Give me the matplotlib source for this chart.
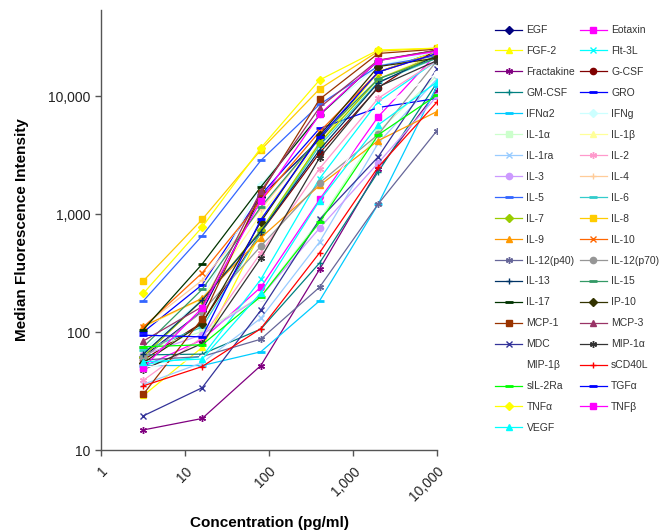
import matplotlib.pyplot as plt
from matplotlib.ticker import FixedLocator, FuncFormatter, NullLocator

plt.rcParams['font.family'] = ['Liberation Sans', 'DejaVu Sans']

# 5-fold dilution series (pg/ml)
conc = [3.2, 16, 80, 400, 2000, 10000]

# median fluorescence intensity
egf = [62, 150, 1400, 4300, 16000, 24000]
eotaxin = [51, 86, 240, 1330, 6700, 23000]
fgf2 = [29, 74, 700, 4000, 16000, 24000]
flt3l = [53, 62, 280, 2000, 9000, 20000]
fractakine = [14.8, 18.5, 52, 340, 2400, 11000]
gcsf = [58, 120, 700, 3300, 11800, 25000]
gmcsf = [64, 65, 106, 385, 2290, 13000]
gro = [100, 252, 1450, 5320, 8000, 9560]
ifna2 = [52, 52, 68, 184, 1220, 12200]
ifng = [70, 190, 1760, 7000, 18000, 24000]
il1a = [70, 101, 200, 890, 5000, 15000]
il1b = [110, 190, 1000, 4000, 14000, 23000]
il1ra = [36, 55, 131, 580, 4000, 14000]
il2 = [39, 90, 470, 2430, 9600, 20000]
il3 = [64, 95, 200, 760, 2720, 10000]
il4 = [112, 275, 1100, 4500, 14000, 22000]
il5 = [184, 655, 2850, 8500, 18000, 22000]
il6 = [70, 110, 700, 3800, 13200, 21000]
il7 = [62, 186, 730, 4000, 14000, 22000]
il8 = [272, 900, 3500, 11500, 24000, 25500]
il9 = [112, 193, 630, 1750, 4200, 7400]
il10 = [110, 317, 1300, 5000, 16000, 23000]
il12p40 = [58, 62, 87, 240, 1220, 5100]
il12p70 = [60, 149, 535, 1840, 4730, 20000]
il13 = [65, 186, 710, 3500, 13000, 22000]
il15 = [75, 230, 1150, 4500, 14000, 21000]
il17 = [105, 377, 1700, 6900, 20000, 24500]
ip10 = [55, 118, 860, 4650, 17800, 21000]
mcp1 = [29.8, 130, 1500, 9400, 23000, 25000]
mcp3 = [84, 164, 1570, 8000, 20200, 24500]
mdc = [19.5, 33.7, 153, 900, 3060, 17000]
mip1a = [48, 80, 425, 3000, 12000, 20000]
mip1b = [50, 60, 200, 1150, 8000, 15500]
scd40l = [35, 51, 107, 470, 2510, 8900]
sil2ra = [75, 78, 200, 850, 4700, 10200]
tgfa = [94, 91, 900, 4500, 16000, 23000]
tnfa = [213, 775, 3640, 13700, 24600, 25500]
tnfb = [50, 160, 1300, 7000, 20000, 24000]
vegf = [56, 59, 215, 1300, 5700, 13200]

labels = ['EGF', 'Eotaxin', 'FGF-2', 'Flt-3L', 'Fractakine', 'G-CSF', 'GM-CSF', 'GRO',
          'IFNα2', 'IFNg', 'IL-1α', 'IL-1β', 'IL-1ra', 'IL-2', 'IL-3', 'IL-4', 'IL-5',
          'IL-6', 'IL-7', 'IL-8', 'IL-9', 'IL-10', 'IL-12(p40)', 'IL-12(p70)', 'IL-13',
          'IL-15', 'IL-17', 'IP-10', 'MCP-1', 'MCP-3', 'MDC', 'MIP-1α', 'MIP-1β',
          'sCD40L', 'sIL-2Ra', 'TGFα', 'TNFα', 'TNFβ', 'VEGF']
series = [egf, eotaxin, fgf2, flt3l, fractakine, gcsf, gmcsf, gro, ifna2, ifng, il1a,
          il1b, il1ra, il2, il3, il4, il5, il6, il7, il8, il9, il10, il12p40, il12p70,
          il13, il15, il17, ip10, mcp1, mcp3, mdc, mip1a, mip1b, scd40l, sil2ra, tgfa,
          tnfa, tnfb, vegf]

colors = ['#000080', '#FF00FF', '#FFFF00', '#00FFFF', '#800080', '#800000', '#008080',
          '#0000FF', '#00CCFF', '#CCFFFF', '#CCFFCC', '#FFFF99', '#99CCFF', '#FF99CC',
          '#CC99FF', '#FFCC99', '#3366FF', '#33CCCC', '#99CC00', '#FFCC00', '#FF9900',
          '#FF6600', '#666699', '#969696', '#003366', '#339966', '#003300', '#333300',
          '#993300', '#993366', '#333399', '#333333', '#FFFFFF', '#FF0000', '#00FF00',
          '#0000FF', '#FFFF00', '#FF00FF', '#00FFFF']
star = (6, 2, 0)
markers = ['D', 's', '^', 'x', star, 'o', '+', '_', '_', 'D', 's', '^', 'x', star,
           'o', '+', '_', '_', 'D', 's', '^', 'x', star, 'o', '+', '_', '_', 'D', 's',
           '^', 'x', star, 'o', '+', '_', '_', 'D', 's', '^']

fig = plt.figure(figsize=(6.71, 5.31), dpi=100)
ax = fig.add_axes([101 / 671, 81 / 531, 336 / 671, 440 / 531])

handles = []
for lab, vals, col, mk in zip(labels, series, colors, markers):
    ms = 4.5
    mew = 1.0
    if mk == 'D':
        ms = 4
    elif mk == '_':
        ms = 6
        mew = 2.0
    elif mk in ('x', '+') or mk == star:
        ms = 5
    h, = ax.plot(conc, vals, color=col, lw=0.9, marker=mk, markersize=ms,
                 markeredgewidth=mew, markerfacecolor=col, markeredgecolor=col,
                 label=lab)
    handles.append(h)

ax.set_xscale('log')
ax.set_yscale('log')
ax.set_xlim(1, 10000)
ax.set_ylim(10, 53700)

fmt = FuncFormatter(lambda v, p: '{:,.0f}'.format(v))
ax.xaxis.set_major_locator(FixedLocator([1, 10, 100, 1000, 10000]))
ax.yaxis.set_major_locator(FixedLocator([10, 100, 1000, 10000]))
ax.xaxis.set_minor_locator(NullLocator())
ax.yaxis.set_minor_locator(NullLocator())
ax.xaxis.set_major_formatter(fmt)
ax.yaxis.set_major_formatter(fmt)

for s in ['top', 'right']:
    ax.spines[s].set_visible(False)
for s in ['left', 'bottom']:
    ax.spines[s].set_color('#555555')
    ax.spines[s].set_linewidth(1.0)
ax.tick_params(direction='out', length=4, width=1, color='#555555',
               labelsize=10, labelcolor='#222222')
ax.tick_params(axis='x', pad=6)
plt.setp(ax.get_xticklabels(), rotation=45, ha='right', rotation_mode='anchor')

ax.set_xlabel('Concentration (pg/ml)', fontsize=11, fontweight='bold', labelpad=9)
ax.set_ylabel('Median Fluorescence Intensity', fontsize=11, fontweight='bold', labelpad=14)

# legend fills row by row: EGF | Eotaxin, FGF-2 | Flt-3L ...
order = list(range(0, len(handles), 2)) + list(range(1, len(handles), 2))
fig.legend([handles[i] for i in order], [labels[i] for i in order], ncol=2,
           loc='upper left', bbox_to_anchor=(490 / 671, 1 - 20 / 531),
           frameon=False, fontsize=7.5, borderpad=0, handlelength=2.6,
           handletextpad=0.4, labelspacing=1.05, columnspacing=0.45,
           labelcolor='#333333')

fig.savefig('out.png', dpi=100)
